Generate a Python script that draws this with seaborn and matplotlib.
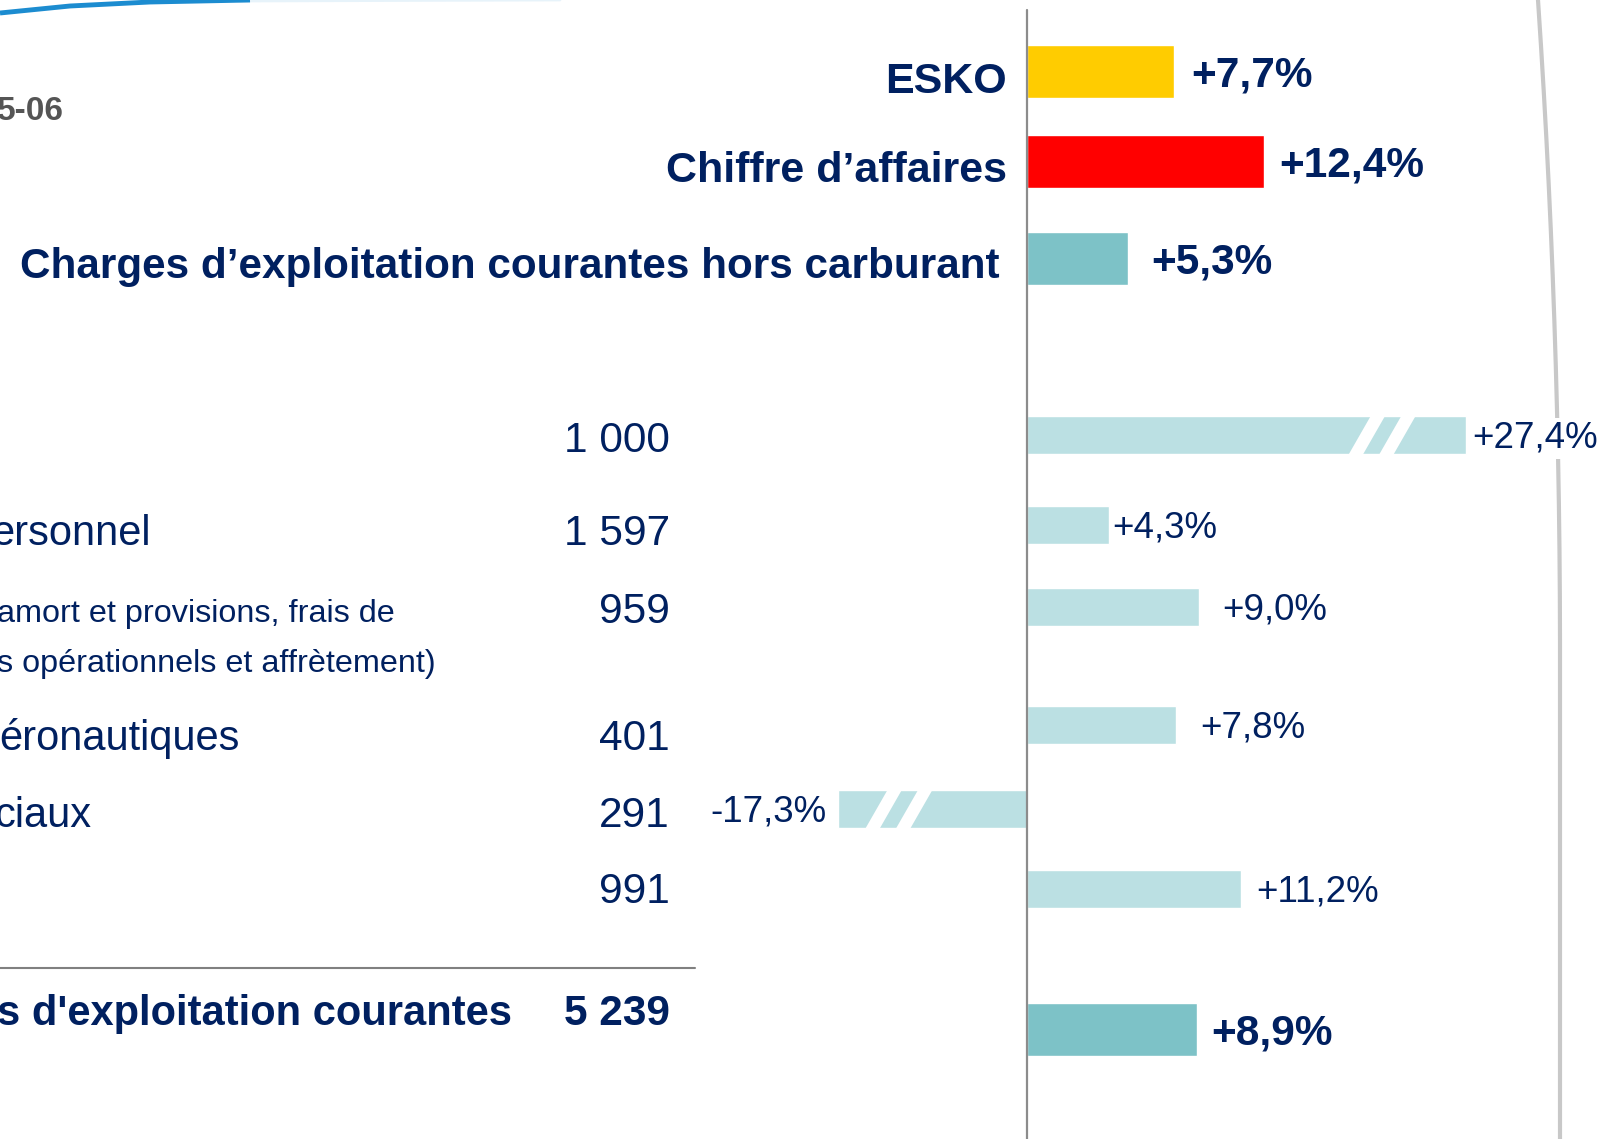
import numpy as np
import pandas as pd
import matplotlib.pyplot as plt
from matplotlib.patches import Polygon
import seaborn as sns

# Données : variation 2005-06 (en %) et montants (M EUR)
top_labels = ["ESKO", "Chiffre d’affaires", "Charges d’exploitation courantes hors carburant"]
top_changes = [7.7, 12.4, 5.3]

detail_labels = ["", "ersonnel", "amort et provisions, frais de\ns opérationnels et affrètement)",
                 "éronautiques", "ciaux", ""]
detail_amounts = ["1 000", "1 597", "959", "401", "291", "991"]
detail_changes = [27.4, 4.3, 9.0, 7.8, -17.3, 11.2]

total_label = "s d'exploitation courantes"
total_amount = "5 239"
total_change = 8.9

period_label = "5-06"

# Mise en page (pixels)
W, H = 1603, 1139
PX_PER_PCT = 19.1
ZERO_X = 1027
top_rows = [71.5, 161.5, 258.5]
total_row = 1029.5
detail_rows = [435, 525, 607, 725, 809, 889]
bar_cap = (-9.9, 23.0)

NAVY = "#002060"
TEAL = "#7DC2C7"
LIGHT = "#BBE0E3"

sns.set_theme(style="white")
plt.rcParams["font.family"] = ["Liberation Sans", "DejaVu Sans"]

fig = plt.figure(figsize=(W / 100, H / 100), dpi=100)
bg = fig.add_axes([0, 0, 1, 1])
bg.set_xlim(0, W)
bg.set_ylim(H, 0)
bg.set_axis_off()
ax = fig.add_axes([0, 0, 1, 1])
ax.set_axis_off()

# barres principales
big = pd.DataFrame({"row": top_rows + [total_row],
                    "change": top_changes + [total_change],
                    "name": top_labels + [total_label]})
big_colors = dict(zip(big["name"], ["#FFCC00", "#FF0000", TEAL, TEAL]))
sns.barplot(data=big, x="change", y="row", hue="name", palette=big_colors, orient="h",
            native_scale=True, width=53 / 90, saturation=1, errorbar=None, legend=False, ax=ax)

# barres de détail (tronquées si hors échelle)
det = pd.DataFrame({"row": detail_rows, "change": detail_changes})
det["shown"] = det["change"].clip(*bar_cap)
sns.barplot(data=det, x="shown", y="row", orient="h", native_scale=True, width=38 / 80,
            color=LIGHT, saturation=1, errorbar=None, ax=ax)

ax.set_xlim(-ZERO_X / PX_PER_PCT, (W - ZERO_X) / PX_PER_PCT)
ax.set_ylim(H, 0)
ax.set_axis_off()
ax.axvline(0, ymin=0, ymax=1 - 10 / H, color="#8c8c8c", lw=1.6, zorder=5)


def fmt(v):
    return f"{v:+.1f}%".replace(".", ",")


def add_break(x_c, y_c, half_h, gap=0.75, slant=1.2):
    pts = [(x_c - gap / 2 - slant / 2, y_c + half_h + 1), (x_c + gap / 2 - slant / 2, y_c + half_h + 1),
           (x_c + gap / 2 + slant / 2, y_c - half_h - 1), (x_c - gap / 2 + slant / 2, y_c - half_h - 1)]
    ax.add_patch(Polygon(pts, closed=True, facecolor="white", edgecolor="none", zorder=4))


for row, v, s in zip(det["row"], det["change"], det["shown"]):
    if v > s:
        for off in (3.6, 5.2):
            add_break(s - off, row, 19)
    elif v < s:
        for off in (2.4, 4.0):
            add_break(s + off, row, 19)

# étiquettes de variation
PT = 0.72  # px -> pt
top_pads = [17, 15, 23]
for row, v, pad in zip(top_rows, top_changes, top_pads):
    ax.annotate(fmt(v), (v, row), xytext=(pad * PT, -15 * PT), textcoords="offset points",
                ha="left", va="baseline", fontsize=30.5, fontweight="bold", color=NAVY)
ax.annotate(fmt(total_change), (total_change, total_row), xytext=(14 * PT, -15 * PT),
            textcoords="offset points", ha="left", va="baseline", fontsize=30.5,
            fontweight="bold", color=NAVY)

detail_pads = [6, 3, 23, 24, 11, 15]
for row, v, s, pad in zip(det["row"], det["change"], det["shown"], detail_pads):
    side = 1 if v >= 0 else -1
    bbox = dict(facecolor="white", edgecolor="none", pad=2) if v > s else None
    ax.annotate(fmt(v), (s, row), xytext=(side * pad * PT, -13 * PT), textcoords="offset points",
                ha="left" if side > 0 else "right", va="baseline", fontsize=26.5,
                color=NAVY, bbox=bbox, zorder=6)

# textes de gauche (la diapositive est rognée à gauche)
top_baselines = [93, 182, 278]
top_right = [1007, 1007, 1000]
top_sizes = [31, 31, 30.45]
for lab, y, x, fs in zip(top_labels, top_baselines, top_right, top_sizes):
    bg.text(x, y, lab, ha="right", va="baseline", fontsize=fs, fontweight="bold", color=NAVY)

row_baselines = [452, 545, 623, 750, 827, 903]
label_right = [0, 151, 0, 240, 91, 0]
for lab, amt, y, xr in zip(detail_labels, detail_amounts, row_baselines, label_right):
    bg.text(670, y, amt, ha="right", va="baseline", fontsize=30.5, color=NAVY)
    lines = lab.split("\n")
    if len(lines) == 1:
        bg.text(xr, y, lab, ha="right", va="baseline", fontsize=30, color=NAVY)
    else:
        for k, ln in enumerate(lines):
            bg.text(-3, y - 1 + 50 * k, ln, ha="left", va="baseline", fontsize=23.3, color=NAVY)

bg.plot([0, 695], [968, 968], color="#808080", lw=1.5)
bg.text(-3, 1025, total_label, ha="left", va="baseline", fontsize=30, fontweight="bold", color=NAVY)
bg.text(670, 1025, total_amount, ha="right", va="baseline", fontsize=30.5, fontweight="bold", color=NAVY)

bg.text(64, 120, period_label, ha="right", va="baseline", fontsize=24, fontweight="bold",
        color="#555555")

# éléments décoratifs de la diapositive
bg.plot([0, 70, 150, 250], [13, 6, 2, 0], color="#1C8CD0", lw=3.5, solid_capstyle="butt")
bg.plot([240, 560], [1, 0], color="#1C8CD0", lw=2, alpha=0.1)
ys = np.linspace(0, H, 200)
xs = 1560 - 22 * np.clip(1 - ys / 650, 0, None) ** 2
bg.plot(xs, ys, color="#c8c8c8", lw=3)

fig.savefig("out.png", dpi=100)
